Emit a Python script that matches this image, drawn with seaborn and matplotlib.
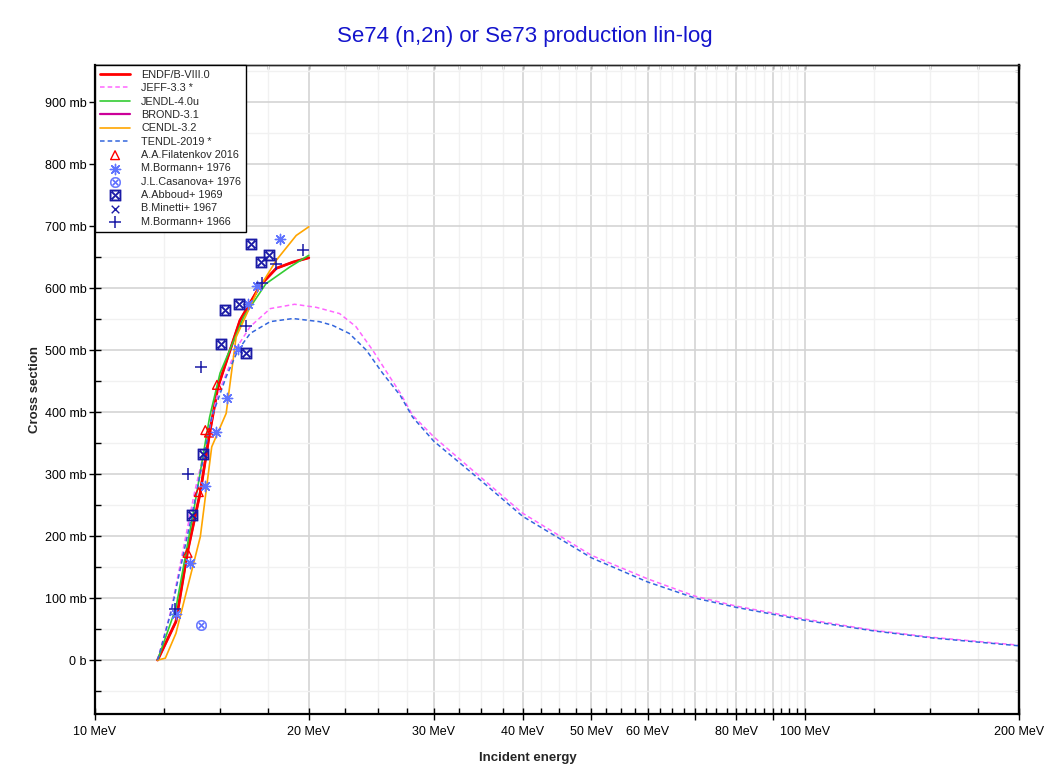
import matplotlib
matplotlib.use('Agg')
import matplotlib.pyplot as plt
import matplotlib.ticker as mticker
import seaborn as sns

# Evaluated curves (energy in MeV, cross section in mb)
endf_e = [12.25, 13.0, 13.5, 14.07, 14.5, 14.9, 16.0, 17.1, 18.0, 19.0, 20.0]
endf_xs = [0, 62, 175, 271, 366, 441, 548, 605, 632, 642, 649]

jeff_e = [12.25, 12.8, 13.8, 14.85, 15.85, 16.54, 17.65, 19.1, 20.5, 22.1, 23.3, 24.6, 26.0,
          26.9, 28.0, 30, 35, 40, 50, 60, 70, 80, 100, 125, 150, 200]
jeff_xs = [0, 81, 269, 425, 505, 538, 567, 574, 569, 559, 538, 500, 457,
           431, 395, 360, 294, 237, 169, 131, 103, 87, 66, 48, 37, 24]

jendl_e = [12.25, 13.0, 13.8, 14.5, 15.0, 16.2, 17.4, 18.8, 20.0]
jendl_xs = [0, 84, 247, 392, 463, 554, 607, 634, 653]

# BROND-3.1 sits under the ENDF/B-VIII.0 curve
brond_e = [12.25, 13.0, 13.5, 14.07, 14.5, 14.9, 16.0, 17.1, 18.0, 19.0, 20.0]
brond_xs = [0, 62, 175, 271, 366, 441, 548, 605, 632, 642, 649]

cendl_e = [12.25, 12.56, 13.0, 14.07, 14.6, 15.3, 15.8, 16.9, 18.0, 19.2, 20.0]
cendl_xs = [0, 3, 43, 199, 344, 398, 521, 594, 645, 685, 699]

tendl_e = [12.25, 12.8, 13.8, 14.6, 15.3, 15.9, 16.54, 17.65, 19.0, 20.7, 21.6, 22.8, 24.1,
           25.4, 26.9, 28.0, 30, 35, 40, 50, 60, 70, 80, 100, 125, 150, 200]
tendl_xs = [0, 78, 253, 392, 457, 500, 527, 546, 551, 546, 540, 527, 500,
            463, 427, 392, 353, 289, 232, 165, 126, 100, 85, 64, 47, 36, 23]

# Experimental data
filatenkov_e = [13.5, 14.0, 14.3, 14.47, 14.85]
filatenkov_xs = [173, 271, 371, 367, 444]

bormann76_e = [13.0, 13.6, 14.3, 14.8, 15.35, 15.9, 16.4, 16.9, 18.2]
bormann76_xs = [74, 156, 281, 368, 423, 502, 575, 603, 679]

casanova_e = [14.1]
casanova_xs = [57]

abboud_e = [13.7, 14.2, 15.05, 15.25, 15.95, 16.3, 16.6, 17.15, 17.6]
abboud_xs = [234, 332, 510, 565, 574, 496, 672, 642, 654]

minetti_e = [14.7]
minetti_xs = [874]

bormann66_e = [12.95, 13.5, 14.1, 16.3, 17.2, 18.0, 19.6]
bormann66_xs = [83, 300, 472, 539, 609, 639, 661]

x_major = [10, 20, 30, 40, 50, 60, 70, 80, 90, 100, 200]
x_labels = ['10 MeV', '20 MeV', '30 MeV', '40 MeV', '50 MeV', '60 MeV', '', '80 MeV', '', '100 MeV', '200 MeV']
y_major = [0, 100, 200, 300, 400, 500, 600, 700, 800, 900]
y_labels = ['0 b', '100 mb', '200 mb', '300 mb', '400 mb', '500 mb', '600 mb', '700 mb', '800 mb', '900 mb']
y_minor = [-50, 50, 150, 250, 350, 450, 550, 650, 750, 850, 950]
x_minor = [10 + 2.5 * i for i in range(1, 37) if (10 + 2.5 * i) % 10 != 0] + [125, 150, 175]

sns.set_style("white")
plt.rcParams['font.family'] = ['Liberation Sans', 'DejaVu Sans']

fig = plt.figure(figsize=(10.63, 7.74), dpi=100)
ax = fig.add_axes([95 / 1063, 1 - 714 / 774, 924 / 1063, 649 / 774])

# curves
sns.lineplot(x=brond_e, y=brond_xs, ax=ax, color='#cc0099', lw=1.6, label='BROND-3.1', sort=False)
sns.lineplot(x=endf_e, y=endf_xs, ax=ax, color='#ff0000', lw=2, label='ENDF/B-VIII.0', sort=False)
sns.lineplot(x=jeff_e, y=jeff_xs, ax=ax, color='#ff66ff', lw=1.1, label='JEFF-3.3 *', sort=False)
ax.lines[-1].set_dashes((3, 2))
sns.lineplot(x=jendl_e, y=jendl_xs, ax=ax, color='#33cc33', lw=1.2, label='JENDL-4.0u', sort=False)
sns.lineplot(x=cendl_e, y=cendl_xs, ax=ax, color='#ffa500', lw=1.2, label='CENDL-3.2', sort=False)
sns.lineplot(x=tendl_e, y=tendl_xs, ax=ax, color='#3366dd', lw=1.1, label='TENDL-2019 *', sort=False)
ax.lines[-1].set_dashes((3, 2))

# experimental points
sns.scatterplot(x=filatenkov_e, y=filatenkov_xs, ax=ax, marker='^', s=40,
                facecolor='none', edgecolor='#ff0000', linewidth=1, label='A.A.Filatenkov 2016', zorder=5)
sns.scatterplot(x=bormann76_e, y=bormann76_xs, ax=ax, marker=(8, 2, 0), s=55,
                color='#5f73ff', linewidth=1, label='M.Bormann+ 1976', zorder=5)
sns.scatterplot(x=casanova_e, y=casanova_xs, ax=ax, marker=r'$\otimes$', s=60,
                color='#5a6cff', edgecolor='#5a6cff', linewidth=0.2, label='J.L.Casanova+ 1976', zorder=5)
sns.scatterplot(x=abboud_e, y=abboud_xs, ax=ax, marker=r'$\boxtimes$', s=65,
                color='#1a1aa6', edgecolor='#1a1aa6', linewidth=0.35, label='A.Abboud+ 1969', zorder=5)
sns.scatterplot(x=minetti_e, y=minetti_xs, ax=ax, marker='x', s=30,
                color='#c8c8f4', linewidth=1, label='B.Minetti+ 1967', zorder=5)
sns.scatterplot(x=bormann66_e, y=bormann66_xs, ax=ax, marker='+', s=70,
                color='#1a1aa6', linewidth=1.1, label='M.Bormann+ 1966', zorder=5)

ax.set_xscale('log')
ax.set_xlim(10, 200)
ax.set_ylim(-87, 960)

ax.xaxis.set_major_locator(mticker.FixedLocator(x_major))
ax.xaxis.set_major_formatter(mticker.FixedFormatter(x_labels))
ax.xaxis.set_minor_locator(mticker.FixedLocator(x_minor))
ax.xaxis.set_minor_formatter(mticker.NullFormatter())
ax.yaxis.set_major_locator(mticker.FixedLocator(y_major))
ax.yaxis.set_major_formatter(mticker.FixedFormatter(y_labels))
ax.yaxis.set_minor_locator(mticker.FixedLocator(y_minor))

ax.grid(which='major', color='#d4d4d4', lw=1.2)
ax.grid(which='minor', color='#f1f1f1', lw=1)
ax.set_axisbelow(True)

# bottom / left: major ticks cross the axis, minor ticks inside
ax.tick_params(which='both', bottom=True, left=True, top=False, right=False,
               colors='black', labelsize=9)
ax.tick_params(which='major', direction='inout', length=9, width=1)
ax.tick_params(which='minor', direction='in', length=4, width=1)
ax.tick_params(axis='x', pad=4)
ax.tick_params(axis='y', pad=1.5)

# top / right: short inward ticks only
sec_x = ax.secondary_xaxis('top')
sec_x.xaxis.set_major_locator(mticker.FixedLocator(x_major))
sec_x.xaxis.set_minor_locator(mticker.FixedLocator(x_minor))
sec_x.xaxis.set_major_formatter(mticker.NullFormatter())
sec_x.xaxis.set_minor_formatter(mticker.NullFormatter())
sec_x.tick_params(which='both', top=True, direction='in', length=3, width=1, color='black')
sec_y = ax.secondary_yaxis('right')
sec_y.yaxis.set_major_locator(mticker.FixedLocator(y_major))
sec_y.yaxis.set_minor_locator(mticker.FixedLocator(y_minor))
sec_y.yaxis.set_major_formatter(mticker.NullFormatter())
sec_y.tick_params(which='both', right=True, direction='in', length=3, width=1, color='black')

for side in ['left', 'bottom', 'right']:
    ax.spines[side].set_linewidth(1.6)
    ax.spines[side].set_color('black')
ax.spines['top'].set_linewidth(1)
sec_x.spines['top'].set_linewidth(1)
sec_y.spines['right'].set_linewidth(1.6)

ax.set_xlabel('Incident energy', fontsize=9.5, fontweight='bold')
ax.set_ylabel('Cross section', fontsize=9.5, fontweight='bold')
ax.xaxis.set_label_coords(0.469, -0.058)
ax.yaxis.set_label_coords(-0.0585, 0.5)

handles, labels = ax.get_legend_handles_labels()
order = ['ENDF/B-VIII.0', 'JEFF-3.3 *', 'JENDL-4.0u', 'BROND-3.1', 'CENDL-3.2', 'TENDL-2019 *',
         'A.A.Filatenkov 2016', 'M.Bormann+ 1976', 'J.L.Casanova+ 1976', 'A.Abboud+ 1969',
         'B.Minetti+ 1967', 'M.Bormann+ 1966']
hmap = dict(zip(labels, handles))
leg = ax.legend([hmap[k] for k in order], order, loc='upper left', bbox_to_anchor=(0, 1),
                borderaxespad=0, fontsize=7.8, frameon=True, fancybox=False,
                edgecolor='black', framealpha=1, handlelength=2.8, handletextpad=1.0,
                labelspacing=0.31, borderpad=0.45)
leg.get_frame().set_linewidth(1)
# the legend symbol for Minetti is drawn in full blue
leg.legend_handles[order.index('B.Minetti+ 1967')].set_color('#1a1aa6')

fig.text(0.494, 0.953, 'Se74 (n,2n) or Se73 production lin-log', color='#1414cc',
         fontsize=16, ha='center', va='center')

fig.savefig('out.png', dpi=100)
